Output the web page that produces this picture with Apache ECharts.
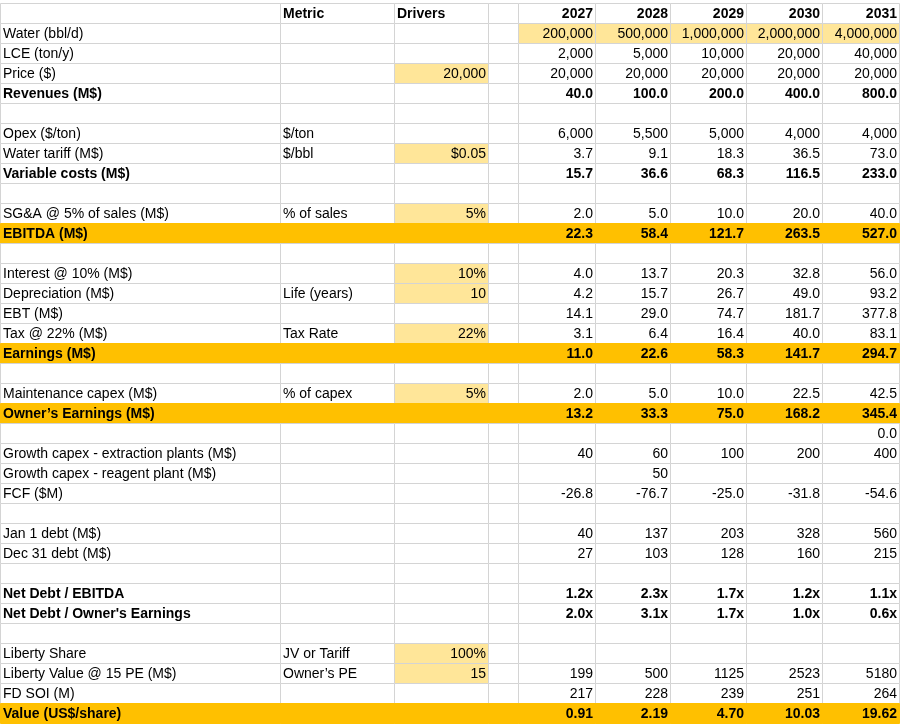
<!DOCTYPE html>
<html>
<head>
<meta charset="utf-8">
<script src="https://cdn.jsdelivr.net/npm/echarts@6/dist/echarts.min.js"></script>
<style>html,body{margin:0;padding:0;background:#fff}#main{width:901px;height:726px}</style>
</head>
<body>
<div id="main"></div>
<script>
// spreadsheet grid
var colEdges = [0, 280, 394, 488, 518, 595, 670, 746, 822, 899];
var rowTop0 = 3, rowH = 20, rowCount = 36;

var labels = ['', 'Water (bbl/d)', 'LCE (ton/y)', 'Price ($)', 'Revenues (M$)', '',
  'Opex ($/ton)', 'Water tariff (M$)', 'Variable costs (M$)', '',
  'SG&A @ 5% of sales (M$)', 'EBITDA (M$)', '',
  'Interest @ 10% (M$)', 'Depreciation (M$)', 'EBT (M$)', 'Tax @ 22% (M$)', 'Earnings (M$)', '',
  'Maintenance capex (M$)', 'Owner\u2019s Earnings (M$)', '',
  'Growth capex - extraction plants (M$)', 'Growth capex - reagent plant (M$)', 'FCF ($M)', '',
  'Jan 1 debt (M$)', 'Dec 31 debt (M$)', '',
  'Net Debt / EBITDA', 'Net Debt / Owner\'s Earnings', '',
  'Liberty Share', 'Liberty Value @ 15 PE (M$)', 'FD SOI (M)', 'Value (US$/share)'];
var metric = ['Metric', '', '', '', '', '', '$/ton', '$/bbl', '', '', '% of sales', '', '',
  '', 'Life (years)', '', 'Tax Rate', '', '', '% of capex', '', '', '', '', '', '',
  '', '', '', '', '', '', 'JV or Tariff', 'Owner\u2019s PE', '', ''];
var drivers = ['Drivers', '', '', '20,000', '', '', '', '$0.05', '', '', '5%', '', '',
  '10%', '10', '', '22%', '', '', '5%', '', '', '', '', '', '',
  '', '', '', '', '', '', '100%', '15', '', ''];
var years = ['2027', '2028', '2029', '2030', '2031'];
var y2027 = ['200,000', '2,000', '20,000', '40.0', '', '6,000', '3.7', '15.7', '', '2.0', '22.3', '',
  '4.0', '4.2', '14.1', '3.1', '11.0', '', '2.0', '13.2', '', '40', '', '-26.8', '',
  '40', '27', '', '1.2x', '2.0x', '', '', '199', '217', '0.91'];
var y2028 = ['500,000', '5,000', '20,000', '100.0', '', '5,500', '9.1', '36.6', '', '5.0', '58.4', '',
  '13.7', '15.7', '29.0', '6.4', '22.6', '', '5.0', '33.3', '', '60', '50', '-76.7', '',
  '137', '103', '', '2.3x', '3.1x', '', '', '500', '228', '2.19'];
var y2029 = ['1,000,000', '10,000', '20,000', '200.0', '', '5,000', '18.3', '68.3', '', '10.0', '121.7', '',
  '20.3', '26.7', '74.7', '16.4', '58.3', '', '10.0', '75.0', '', '100', '', '-25.0', '',
  '203', '128', '', '1.7x', '1.7x', '', '', '1125', '239', '4.70'];
var y2030 = ['2,000,000', '20,000', '20,000', '400.0', '', '4,000', '36.5', '116.5', '', '20.0', '263.5', '',
  '32.8', '49.0', '181.7', '40.0', '141.7', '', '22.5', '168.2', '', '200', '', '-31.8', '',
  '328', '160', '', '1.2x', '1.0x', '', '', '2523', '251', '10.03'];
var y2031 = ['4,000,000', '40,000', '20,000', '800.0', '', '4,000', '73.0', '233.0', '', '40.0', '527.0', '',
  '56.0', '93.2', '377.8', '83.1', '294.7', '', '42.5', '345.4', '0.0', '400', '', '-54.6', '',
  '560', '215', '', '1.1x', '0.6x', '', '', '5180', '264', '19.62'];

var boldRows = [0, 4, 8, 11, 17, 20, 29, 30, 35];
var orangeRows = [11, 17, 20, 35];
var inputCells = [[5, 1], [6, 1], [7, 1], [8, 1], [9, 1], [3, 3], [3, 7], [3, 10], [3, 13], [3, 14],
  [3, 16], [3, 19], [3, 32], [3, 33]];

var yearCols = [y2027, y2028, y2029, y2030, y2031];
var cells = [];
for (var r = 0; r < rowCount; r++) {
  for (var c = 0; c < 9; c++) {
    var text = '', align = 'right';
    if (c === 0) { text = labels[r]; align = 'left'; }
    else if (c === 1) { text = metric[r]; align = 'left'; }
    else if (c === 2) { text = drivers[r]; align = r === 0 ? 'left' : 'right'; }
    else if (c >= 4) { text = r === 0 ? years[c - 4] : yearCols[c - 4][r - 1]; }
    var fill = null;
    inputCells.forEach(function (p) { if (p[0] === c + 1 && p[1] === r) fill = '#ffe699'; });
    cells.push([c, r, text, align, fill]);
  }
}

var chart = echarts.init(document.getElementById('main'), null, { renderer: 'canvas' });
chart.setOption({
  animation: false,
  grid: { left: 0, right: 0, top: 0, bottom: 0 },
  xAxis: { type: 'value', min: 0, max: 901, show: false },
  yAxis: { type: 'value', min: 0, max: 726, inverse: true, show: false },
  series: [{
    type: 'custom',
    data: cells,
    renderItem: function (params, api) {
      var c = api.value(0), r = api.value(1);
      var item = cells[params.dataIndex];
      var top = rowTop0 + r * rowH;
      var p0 = api.coord([colEdges[c], top]);
      var p1 = api.coord([colEdges[c + 1], top + rowH]);
      var orange = orangeRows.indexOf(r) >= 0;
      var children = [{
        type: 'rect',
        shape: { x: p0[0] + 0.5, y: p0[1] + 0.5, width: p1[0] - p0[0], height: p1[1] - p0[1] },
        style: { fill: orange ? '#ffc000' : (item[4] || '#fff'), stroke: orange ? '#ffc000' : '#d4d4d4', lineWidth: 1 }
      }];
      if (item[2]) {
        children.push({
          type: 'text',
          style: {
            text: item[2],
            x: item[3] === 'left' ? p0[0] + 3 : p1[0] - 2,
            y: (p0[1] + p1[1]) / 2 + 1,
            align: item[3], verticalAlign: 'middle',
            font: (boldRows.indexOf(r) >= 0 ? 'bold ' : '') + '14px "Liberation Sans", Arial, sans-serif',
            fill: '#000'
          }
        });
      }
      return { type: 'group', children: children };
    }
  }]
});
</script>
</body>
</html>
